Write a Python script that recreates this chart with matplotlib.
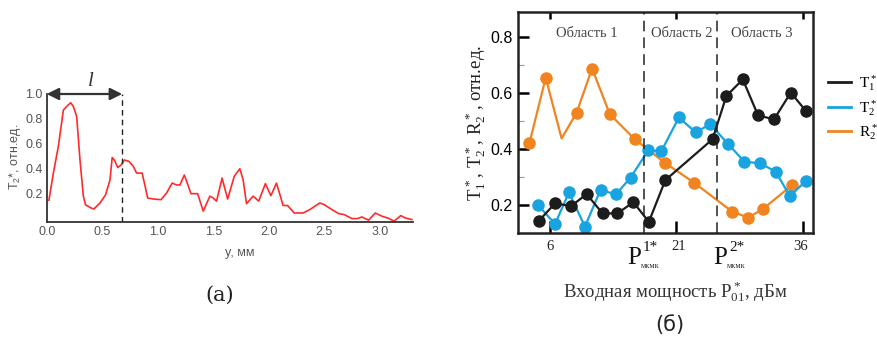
import matplotlib
matplotlib.use('Agg')
import matplotlib.pyplot as plt
from matplotlib.lines import Line2D

plt.rcParams['mathtext.default'] = 'regular'

# (а) распределение T2* по координате y
y_mm = [0.02, 0.06, 0.105, 0.15, 0.18, 0.216, 0.24, 0.27, 0.30, 0.33, 0.35, 0.40, 0.425,
        0.48, 0.53, 0.57, 0.59, 0.61, 0.64, 0.67, 0.70, 0.74, 0.78, 0.81, 0.86, 0.91,
        0.96, 1.03, 1.08, 1.13, 1.17, 1.20, 1.24, 1.30, 1.36, 1.41, 1.47, 1.50, 1.53,
        1.58, 1.63, 1.69, 1.74, 1.77, 1.80, 1.86, 1.91, 1.97, 2.02, 2.07, 2.13, 2.17,
        2.23, 2.31, 2.37, 2.46, 2.50, 2.57, 2.63, 2.68, 2.75, 2.80, 2.84, 2.87, 2.90,
        2.96, 3.02, 3.07, 3.13, 3.19, 3.23, 3.29]
t2_y = [0.147, 0.365, 0.58, 0.87, 0.90, 0.93, 0.90, 0.82, 0.47, 0.18, 0.11, 0.085, 0.077,
        0.125, 0.19, 0.31, 0.49, 0.47, 0.41, 0.43, 0.47, 0.46, 0.42, 0.365, 0.365, 0.165,
        0.157, 0.152, 0.205, 0.285, 0.27, 0.27, 0.35, 0.20, 0.20, 0.06, 0.18, 0.165, 0.14,
        0.325, 0.157, 0.34, 0.40, 0.31, 0.12, 0.18, 0.14, 0.28, 0.184, 0.285, 0.105, 0.105,
        0.045, 0.045, 0.072, 0.125, 0.112, 0.072, 0.04, 0.032, 0.0, 0.0, 0.013, 0.0, -0.013,
        0.045, 0.019, 0.005, -0.02, 0.024, 0.005, -0.008]
l_len = 0.68

# (б) зависимости от входной мощности
p_r2 = [3.55, 5.49, 7.38, 9.16, 11.0, 13.1, 16.04, 19.6, 23.1, 27.66, 29.56, 31.34, 34.7]
r2 = [0.42, 0.655, 0.438, 0.53, 0.688, 0.525, 0.436, 0.352, 0.28, 0.176, 0.155, 0.187, 0.27]
p_t2 = [4.58, 6.6, 8.25, 10.15, 12.0, 13.83, 15.57, 17.66, 19.24, 21.3, 23.3, 25.05,
        27.15, 29.1, 31.0, 32.8, 34.5, 36.35]
t2 = [0.2, 0.132, 0.245, 0.123, 0.254, 0.238, 0.298, 0.395, 0.393, 0.513, 0.46, 0.489,
      0.418, 0.355, 0.349, 0.319, 0.232, 0.285]
p_t1 = [4.7, 6.6, 8.5, 10.35, 12.25, 14.0, 15.9, 17.74, 19.7, 25.3, 26.95, 28.9, 30.7,
        32.6, 34.6, 36.4]
t1 = [0.144, 0.206, 0.196, 0.239, 0.17, 0.17, 0.21, 0.14, 0.289, 0.435, 0.59, 0.649,
      0.521, 0.506, 0.602, 0.536]
p_thr = [17.2, 25.8]
zones = ['Область 1', 'Область 2', 'Область 3']

W, H = 877, 342


def fx(px):
    return px / W


def fy(py):
    return 1 - py / H


fig = plt.figure(figsize=(W / 100, H / 100), dpi=100)

# ---------- левая панель ----------
gray = '#555555'
ax1 = fig.add_axes([fx(46.7), fy(221.7), fx(413) - fx(46.7), fy(94) - fy(221.7)])
ax1.plot(y_mm, t2_y, color='#ff2a2a', lw=1.2)
ax1.set_xlim(0, 3.3)
ax1.set_ylim(-0.025, 1.0)
ax1.set_xticks([0.0, 0.5, 1.0, 1.5, 2.0, 2.5, 3.0])
ax1.set_yticks([0.2, 0.4, 0.6, 0.8, 1.0])
ax1.set_xticklabels(['0.0', '0.5', '1.0', '1.5', '2.0', '2.5', '3.0'])
ax1.set_yticklabels(['0.2', '0.4', '0.6', '0.8', '1.0'])
ax1.tick_params(length=0, labelsize=9, labelcolor=gray, pad=3,
                labelfontfamily='Liberation Sans')
for s in ['top', 'right']:
    ax1.spines[s].set_visible(False)
for s in ['left', 'bottom']:
    ax1.spines[s].set_color('#333333')
    ax1.spines[s].set_linewidth(1.3)
ax1.axvline(l_len, ymax=1, color='#222222', lw=1, ls=(0, (4, 3)))
ax1.annotate('', xy=(0, 1.0), xytext=(l_len, 1.0), annotation_clip=False,
             arrowprops=dict(arrowstyle='<|-|>', mutation_scale=18, lw=1.6,
                             color='#333333', shrinkA=0, shrinkB=0))
ax1.text(0.40, 1.1, 'l', fontsize=15, style='italic', family='Liberation Serif',
         color='#333333', ha='center', va='center')
fig.text(fx(15), fy(157), 'T$_2$*, отн.ед.', rotation=90, ha='center', va='center',
         fontsize=9, color=gray, family='Liberation Sans')
fig.text(fx(240), fy(253), 'y, мм', ha='center', va='center', fontsize=9,
         color=gray, family='Liberation Sans')
fig.text(fx(220), fy(295), '(a)', ha='center', va='center', fontsize=15,
         family='DejaVu Serif', color='#222222')

# ---------- правая панель ----------
ax2 = fig.add_axes([fx(518), fy(233), fx(812.7) - fx(518), fy(12) - fy(233)])
c_bl, c_cy, c_or = '#1c1c1c', '#19a3e0', '#f08420'
ax2.plot(p_r2, r2, color=c_or, lw=1.6, marker='o', ms=8,
         markevery=[i for i in range(len(p_r2)) if i != 2])
ax2.plot(p_t2, t2, color=c_cy, lw=1.6, marker='o', ms=8)
ax2.plot(p_t1, t1, color=c_bl, lw=1.6, marker='o', ms=8)
for p in p_thr:
    ax2.axvline(p, color='#222222', lw=1.1, ls=(0, (7, 4)))
ax2.set_xlim(2.2, 37.2)
ax2.set_ylim(0.1, 0.89)
ax2.set_xticks([6, 21, 36])
ax2.set_xticklabels([])
ax2.set_yticks([0.2, 0.4, 0.6, 0.8])
ax2.set_yticks([0.3, 0.5, 0.7], minor=True)
ax2.set_yticklabels(['0.2', '0.4', '0.6', '0.8'])
ax2.tick_params(axis='y', which='major', direction='in', length=8, width=1.8,
                labelsize=11.5, pad=4, labelfontfamily='Liberation Sans')
ax2.tick_params(axis='y', which='minor', direction='in', length=4, width=0.8,
                color='#999999')
ax2.tick_params(axis='x', direction='in', length=9, width=1.8)
# на верхней оси засечки короче
top = ax2.secondary_xaxis('top')
top.set_xticks([6, 21, 36])
top.set_xticklabels([])
top.tick_params(direction='in', length=5, width=1.8)
top.spines['top'].set_visible(False)
for s in ax2.spines.values():
    s.set_linewidth(1.8)
    s.set_color('#222222')

for name, zx in zip(zones, [10.35, 21.6, 31.1]):
    ax2.text(zx, 0.813, name, ha='center', va='center', fontsize=10.5,
             family='Liberation Serif', color='#444444')

for lab, px in zip(['6', '21', '36'], [550, 678.5, 801]):
    fig.text(fx(px), fy(246), lab, ha='center', va='center', fontsize=10.5,
             family='Liberation Serif', color='#222222')

for sup, px in zip(['1*', '2*'], [627, 713]):
    fig.text(fx(px), fy(264), 'P', ha='left', va='baseline', fontsize=18,
             family='Liberation Serif', color='#111111')
    fig.text(fx(px + 16), fy(251), sup, ha='left', va='baseline', fontsize=11,
             family='Liberation Serif', color='#111111')
    fig.text(fx(px + 14), fy(268), 'мкмк', ha='left', va='baseline', fontsize=6,
             family='Liberation Serif', color='#333333')

fig.text(fx(476), fy(123), 'T$^*_1$, T$^*_2$, R$^*_2$, отн.ед.', rotation=90,
         ha='center', va='center', fontsize=13.5, family='Liberation Serif',
         color='#222222')
fig.text(fx(675), fy(292), 'Входная мощность P$^*_{01}$, дБм', ha='center', va='center',
         fontsize=13.5, family='Liberation Serif', color='#333333')
fig.text(fx(670), fy(325), '(б)', ha='center', va='center', fontsize=15,
         family='DejaVu Sans', color='#222222')

handles = [Line2D([], [], color=c, lw=2) for c in [c_bl, c_cy, c_or]]
ax2.legend(handles, ['T$^*_1$', 'T$^*_2$', 'R$^*_2$'], loc='upper left',
           bbox_to_anchor=(fx(822), fy(67)), bbox_transform=fig.transFigure,
           frameon=False, handlelength=1.5, handletextpad=0.5, labelspacing=0.3,
           borderaxespad=0, prop={'family': 'Liberation Serif', 'size': 11})

fig.savefig('out.png', dpi=100)
